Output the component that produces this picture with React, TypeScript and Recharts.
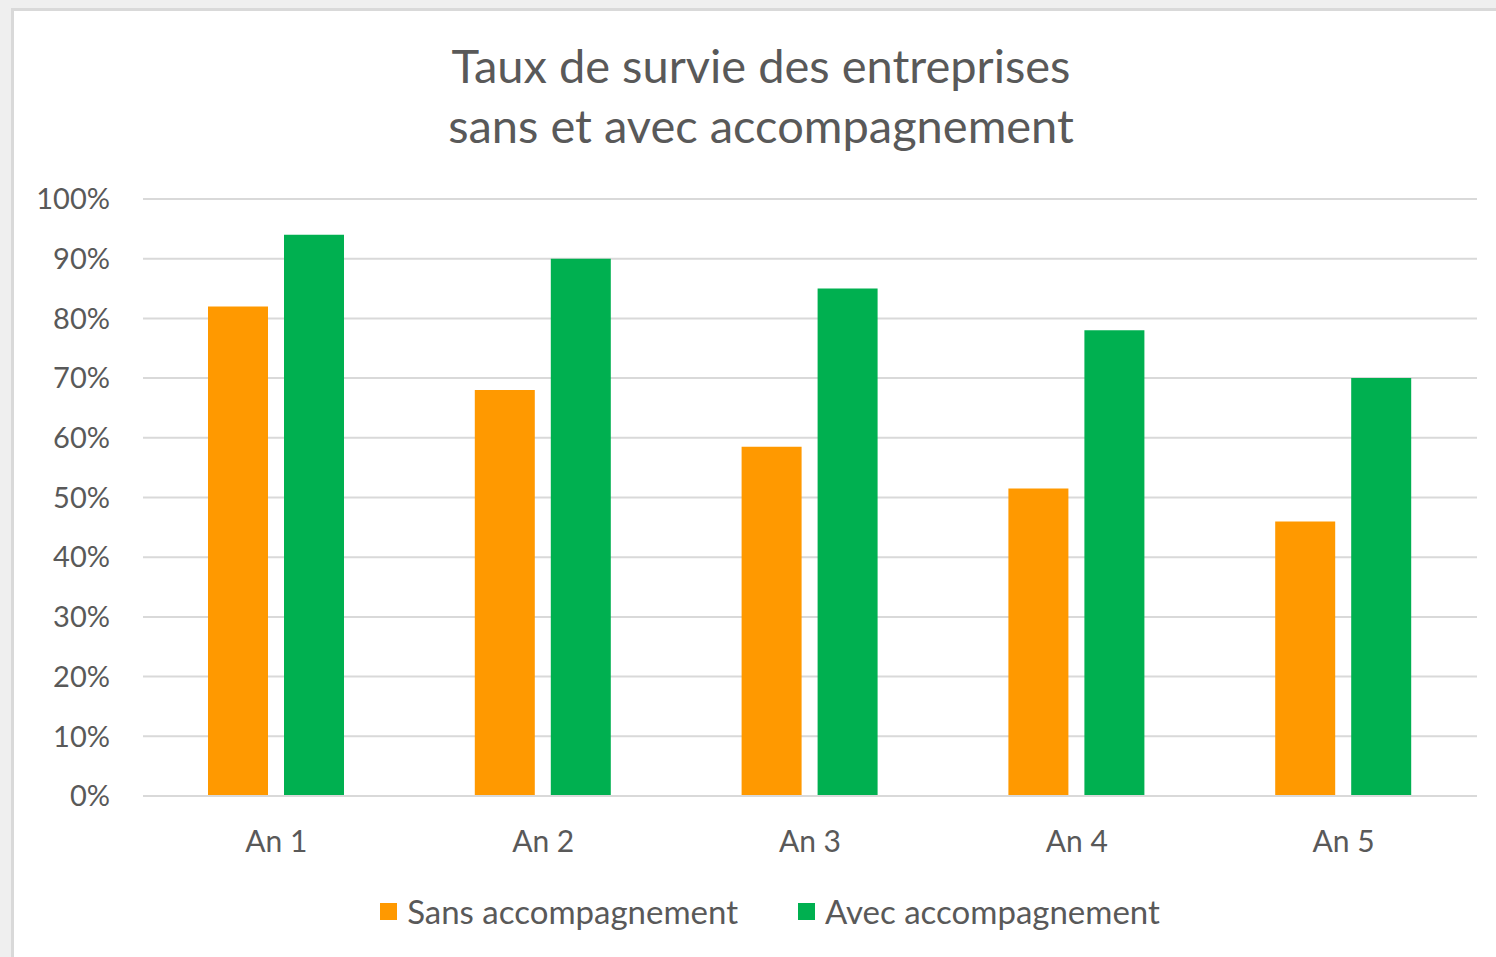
import { Bar, BarChart, CartesianGrid, Legend, XAxis, YAxis } from "recharts";

const years = ["An 1", "An 2", "An 3", "An 4", "An 5"];
const sansAccompagnement = [82, 68, 58.5, 51.5, 46];
const avecAccompagnement = [94, 90, 85, 78, 70];
const percentTicks = [0, 10, 20, 30, 40, 50, 60, 70, 80, 90, 100];
const seriesNames = ["Sans accompagnement", "Avec accompagnement"];

const data = years.map((year, i) => ({
  year,
  sans: sansAccompagnement[i],
  avec: avecAccompagnement[i],
}));

const FONT = "Lato, 'Open Sans', sans-serif";
const TEXT = "#595959";

function LegendContent({ payload }: { payload?: any[] }) {
  const items = [...(payload ?? [])].sort(
    (a, b) => seriesNames.indexOf(a.value) - seriesNames.indexOf(b.value)
  );
  return (
    <div style={{ display: "flex", justifyContent: "center", gap: 60, fontFamily: FONT }}>
      {items.map((item) => (
        <div key={item.value} style={{ display: "flex", alignItems: "center", gap: 10 }}>
          <span style={{ width: 17, height: 17, background: item.color, display: "inline-block" }} />
          <span style={{ fontSize: 33, color: TEXT }}>{item.value}</span>
        </div>
      ))}
    </div>
  );
}

export default function App() {
  return (
    <div
      style={{
        position: "absolute",
        left: 0,
        top: 0,
        width: 1496,
        height: 957,
        overflow: "hidden",
        background: "#efefef",
      }}
    >
      <div
        style={{
          position: "absolute",
          left: 11,
          top: 8,
          width: 1520,
          height: 980,
          background: "#ffffff",
          border: "3px solid #d9d9d9",
        }}
      />
      <div
        style={{
          position: "absolute",
          left: 0,
          top: 35,
          width: 1522,
          textAlign: "center",
          fontFamily: FONT,
          fontSize: 47,
          lineHeight: "60px",
          color: TEXT,
        }}
      >
        Taux de survie des entreprises
        <br />
        sans et avec accompagnement
      </div>
      <div style={{ position: "absolute", left: 0, top: 0 }}>
        <BarChart
          width={1496}
          height={957}
          data={data}
          margin={{ top: 199, right: 19, bottom: 101, left: 23 }}
          barSize={60}
          barGap={16}
        >
          <CartesianGrid vertical={false} stroke="#d9d9d9" strokeWidth={2} />
          <XAxis
            dataKey="year"
            height={60}
            axisLine={{ stroke: "#d9d9d9", strokeWidth: 2 }}
            tickLine={false}
            tickSize={0}
            tickMargin={35}
            tick={{ fill: TEXT, fontSize: 30, fontFamily: FONT }}
          />
          <YAxis
            width={120}
            domain={[0, 100]}
            ticks={percentTicks}
            tickFormatter={(v) => `${v}%`}
            axisLine={false}
            tickLine={false}
            tickSize={0}
            tickMargin={33}
            tick={{ fill: TEXT, fontSize: 29, fontFamily: FONT }}
          />
          <Legend
            verticalAlign="middle"
            align="center"
            wrapperStyle={{ top: 891, left: 0, width: 1540 }}
            content={(props: any) => <LegendContent payload={props.payload} />}
          />
          <Bar dataKey="sans" name="Sans accompagnement" fill="#ff9900" isAnimationActive={false} />
          <Bar dataKey="avec" name="Avec accompagnement" fill="#00b050" isAnimationActive={false} />
        </BarChart>
      </div>
    </div>
  );
}
